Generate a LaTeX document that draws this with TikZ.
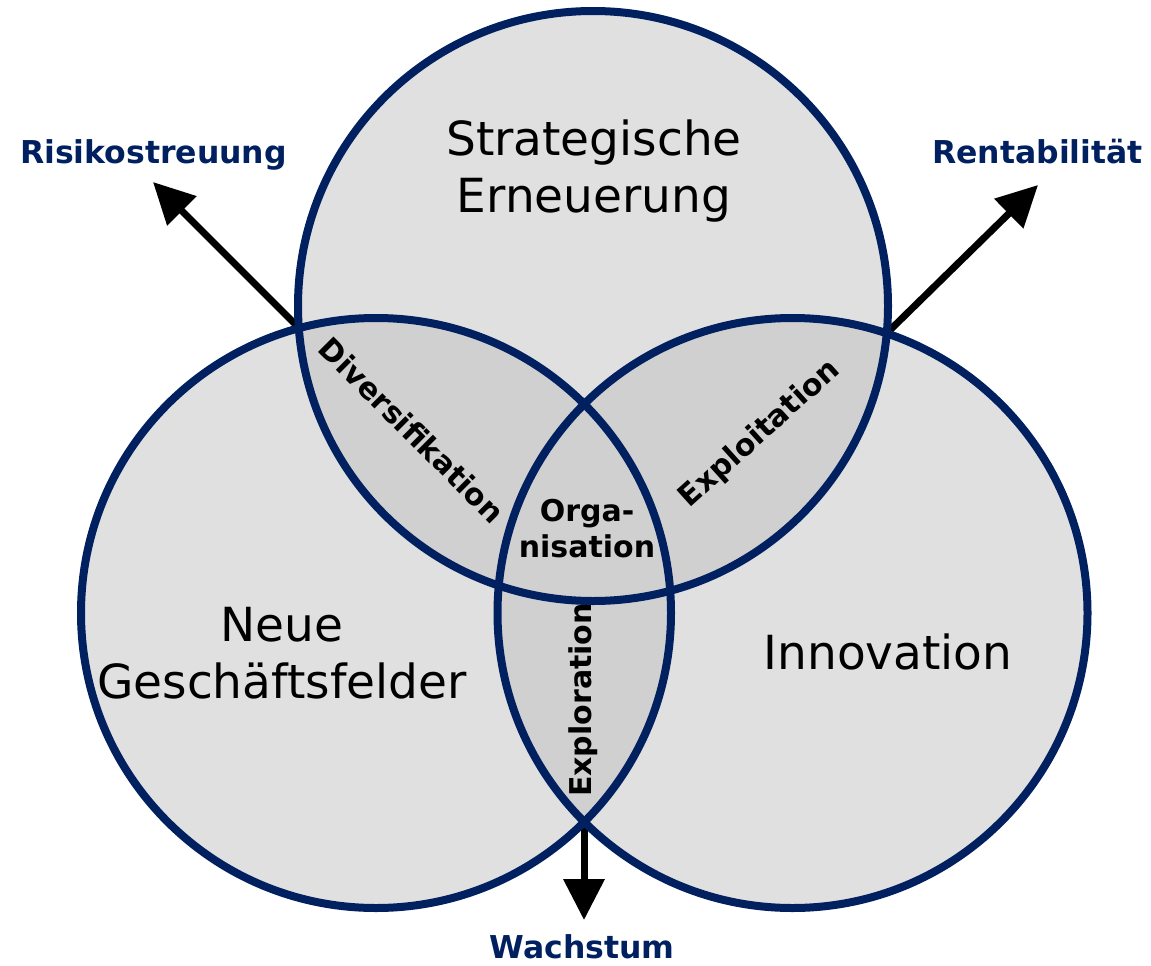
\documentclass[tikz,border=0pt]{standalone}
\usepackage{fontspec}
\setmainfont{DejaVu Sans}
\usetikzlibrary{arrows.meta}
\definecolor{navy}{RGB}{0,32,96}
\definecolor{fillA}{RGB}{224,224,224}
\definecolor{fillB}{RGB}{208,208,208}
\tikzset{
  ring/.style={draw=navy, line width=8pt},
  bigarrow/.style={draw=black, line width=7pt, -{Triangle[length=41pt,width=40pt]}},
  bigtext/.style={inner sep=0pt, align=center, font=\fontsize{47}{57}\selectfont},
  overlap/.style={inner sep=0pt, align=center, font=\bfseries\fontsize{30}{36}\selectfont},
  goal/.style={inner sep=0pt, text=navy, font=\bfseries\fontsize{31.5}{36}\selectfont},
}
\begin{document}
\begin{tikzpicture}[x=1pt,y=-1pt]
\useasboundingbox (0,0) rectangle (1151,966);
\coordinate (cT) at (593,306);
\coordinate (cL) at (376,613);
\coordinate (cR) at (792.5,613);
% base fills
\fill[fillA] (cT) circle[radius=295pt];
\fill[fillA] (cL) circle[radius=295pt];
\fill[fillA] (cR) circle[radius=295pt];
% overlap fills
\begin{scope}
  \clip (cT) circle[radius=295pt];
  \fill[fillB] (cL) circle[radius=295pt];
  \fill[fillB] (cR) circle[radius=295pt];
\end{scope}
\begin{scope}
  \clip (cL) circle[radius=295pt];
  \fill[fillB] (cR) circle[radius=295pt];
\end{scope}
% intersection points and arrow ends
\coordinate (pTL) at (299,328);
\coordinate (pTR) at (887,333);
\coordinate (pLR) at (584,822);
\coordinate (eRisk) at (153,182);
\coordinate (eRent) at (1038,185);
\coordinate (eWach) at (584,920);
\draw[bigarrow] (pTL) -- (eRisk);
\draw[bigarrow] (pTR) -- (eRent);
\draw[bigarrow] (pLR) -- (eWach);
% outlines
\draw[ring] (cT) circle[radius=295pt];
\draw[ring] (cL) circle[radius=295pt];
\draw[ring] (cR) circle[radius=295pt];
% texts
\node[bigtext] (tStrat) at (594,171) {Strategische\\Erneuerung};
\node[bigtext] (tNeue) at (282,653) {Neue\\Geschäftsfelder};
\node[bigtext, anchor=base] (tInno) at (888,669) {Innovation};
\node[overlap, rotate=-45] (tDiv) at (412,430) {Diversifikation};
\node[overlap, rotate=42] (tExpt) at (760,434) {Exploitation};
\node[overlap, rotate=90] (tExpr) at (583,700) {Exploration};
\node[overlap] (tOrg) at (587,529) {Orga-\\nisation};
\node[goal, anchor=base] (lRisk) at (153.5,163) {Risikostreuung};
\node[goal, anchor=base] (lRent) at (1037.5,163) {Rentabilität};
\node[goal, anchor=base] (lWach) at (582,958) {Wachstum};
\end{tikzpicture}
\end{document}
